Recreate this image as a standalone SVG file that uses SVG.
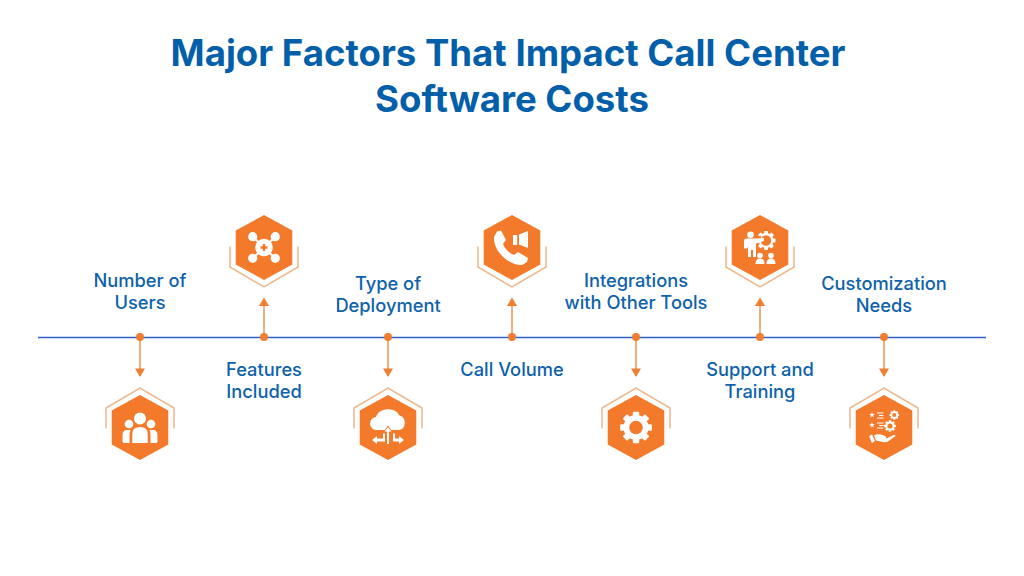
<svg xmlns="http://www.w3.org/2000/svg" xmlns:xlink="http://www.w3.org/1999/xlink" width="1024" height="576" viewBox="0 0 1024 576">
<style>
text{font-family:"Inter","Noto Sans","Liberation Sans",sans-serif;text-anchor:middle}
.t{font-size:36.6px;font-weight:700;fill:#035fa9}
.l{font-size:18.3px;font-weight:500;fill:#0d62ab}
.hex{fill:#f47a2b}
.out{fill:none;stroke:#eeb78c;stroke-width:1.5}
.stem{stroke:#eeaf7e;stroke-width:2;fill:none}
.dot,.head{fill:#f07d30}
.ic{fill:#fff}
</style>
<defs>
<g id="hd"><path class="hex" d="M0-32.500 28.300-17V17L0 32.500-28.300 17V-17Z"/><path class="out" d="M-34 1V-19.500L0-39.500 34-19.500V1"/></g>
<g id="hu"><path class="hex" d="M0-32.500 28.300-17V17L0 32.500-28.300 17V-17Z"/><path class="out" d="M-34-1V19.500L0 39.500 34 19.500V-1"/></g>
<g id="gear"><circle r="12.500" fill="#fff"/><g fill="#fff"><rect x="-3.200" y="-15.800" width="6.400" height="31.600" rx="1"/><rect x="-3.200" y="-15.800" width="6.400" height="31.600" rx="1" transform="rotate(45)"/><rect x="-3.200" y="-15.800" width="6.400" height="31.600" rx="1" transform="rotate(90)"/><rect x="-3.200" y="-15.800" width="6.400" height="31.600" rx="1" transform="rotate(135)"/></g><circle r="6.800" fill="#f47a2b"/></g>
<path id="star" d="M0-3 .7-1 2.850-.93 1.150.37 1.760 2.430 0 1.200-1.760 2.430-1.150.37-2.850-.93-.7-1Z" fill="#fff"/>
</defs>
<rect width="1024" height="576" fill="#fff"/>
<g id="title">
<text class="t" x="508" y="66">Major Factors That Impact Call Center</text>
<text class="t" x="512" y="112">Software Costs</text>
</g>
<g id="connectors">
<line x1="38" y1="337.500" x2="986" y2="337.500" stroke="#2f5fc8" stroke-width="1.500"/>
<g id="c1"><path class="stem" d="M140 337V369"/><circle class="dot" cx="140" cy="337" r="4"/><path class="head" d="M135 368.500H145L140 377Z"/></g>
<g id="c2"><path class="stem" d="M264 337V305"/><circle class="dot" cx="264" cy="337" r="4"/><path class="head" d="M259 306H269L264 297.500Z"/></g>
<g id="c3"><path class="stem" d="M388 337V369"/><circle class="dot" cx="388" cy="337" r="4"/><path class="head" d="M383 368.500H393L388 377Z"/></g>
<g id="c4"><path class="stem" d="M512 337V305"/><circle class="dot" cx="512" cy="337" r="4"/><path class="head" d="M507 306H517L512 297.500Z"/></g>
<g id="c5"><path class="stem" d="M636 337V369"/><circle class="dot" cx="636" cy="337" r="4"/><path class="head" d="M631 368.500H641L636 377Z"/></g>
<g id="c6"><path class="stem" d="M760 337V305"/><circle class="dot" cx="760" cy="337" r="4"/><path class="head" d="M755 306H765L760 297.500Z"/></g>
<g id="c7"><path class="stem" d="M884 337V369"/><circle class="dot" cx="884" cy="337" r="4"/><path class="head" d="M879 368.500H889L884 377Z"/></g>
</g>
<g id="node-users">
<text class="l" x="140" y="287">Number of</text><text class="l" x="140" y="309">Users</text>
<use xlink:href="#hd" href="#hd" x="140" y="427.500"/>
<g class="ic"><circle cx="140" cy="418.500" r="6"/><circle cx="129" cy="424" r="4.300"/><circle cx="151" cy="424" r="4.300"/><path d="M132.300 443V434q0-7 7.700-7t7.700 7V443Z"/><path d="M124 443q-1.500 0-1.500-2V435q0-5 5-5h3q-1 2-1 5V443ZM156 443q1.500 0 1.500-2V435q0-5-5-5h-3q1 2 1 5V443Z"/></g>
</g>
<g id="node-features">
<text class="l" x="264" y="376">Features</text><text class="l" x="264" y="398">Included</text>
<use xlink:href="#hu" href="#hu" x="264" y="247.500"/>
<g class="ic"><path d="M252 236 276 259M276 236 252 259" stroke="#fff" stroke-width="2"/><circle cx="252.700" cy="236.700" r="4.600"/><circle cx="275.300" cy="236.700" r="4.600"/><circle cx="252.700" cy="258.300" r="4.600"/><circle cx="275.300" cy="258.300" r="4.600"/><circle cx="264" cy="247.500" r="8.800"/><path d="M262.800 244H265.200V246.300H267.500V248.700H265.200V251H262.800V248.700H260.500V246.300H262.800Z" fill="#f47a2b"/></g>
</g>
<g id="node-deployment">
<text class="l" x="388" y="290">Type of</text><text class="l" x="388" y="312">Deployment</text>
<use xlink:href="#hd" href="#hd" x="388" y="427.500"/>
<g class="ic"><path d="M377 430a6.500 6.500 0 0 1-1-13 12.500 10.500 0 0 1 23.500-1.500 7.500 7.500 0 0 1-.5 14.500Z"/><path d="M384 431 388 425.500 392 431V444H384Z" fill="#f47a2b"/><path d="M387 444V431.500H384.500L388 427 391.500 431.500H389V444Z"/><path d="M383 433.500V438.500H377V436L372 440 377 444V441.500H385V433.500ZM393 433.500V441.500H399V444L404 440 399 436V438.500H395V433.500Z"/></g>
</g>
<g id="node-volume">
<text class="l" x="512" y="376">Call Volume</text>
<use xlink:href="#hu" href="#hu" x="512" y="247.500"/>
<g class="ic"><path d="M494 237 497 231.500 501 230.500 506 240 503 244C505 249 509 253 514 255L518 252 528 258 527 262 522 265C507 265 493 250 494 237Z"/><rect x="513" y="235" width="4.200" height="10"/><path d="M519 234.500 528 231V248L519 244.500Z"/></g>
</g>
<g id="node-integrations">
<text class="l" x="636" y="287">Integrations</text><text class="l" x="636" y="309">with Other Tools</text>
<use xlink:href="#hd" href="#hd" x="636" y="427.500"/>
<use xlink:href="#gear" href="#gear" x="636" y="427.500"/>
</g>
<g id="node-support">
<text class="l" x="760" y="376">Support and</text><text class="l" x="760" y="398">Training</text>
<use xlink:href="#hu" href="#hu" x="760" y="247.500"/>
<g class="ic"><use xlink:href="#gear" href="#gear" transform="translate(766 240.500) scale(.6)"/><circle cx="766" cy="240.500" r="5.200" fill="#f47a2b"/><path d="M757 236h4v5h-4Z" fill="#f47a2b"/><circle cx="750.500" cy="234.800" r="3.300"/><path d="M744 241q0-2.500 2.500-2.500H756L764 238V241L756 243.500V257H753V250H751V257H748V247L746.500 248.500H744Z"/><circle cx="760" cy="255.500" r="2.800"/><circle cx="771" cy="255.500" r="2.800"/><path d="M755.500 264q0-5.500 4.500-5.500t4.500 5.500ZM766.500 264q0-5.500 4.500-5.500t4.500 5.500Z"/></g>
</g>
<g id="node-customization">
<text class="l" x="884" y="290">Customization</text><text class="l" x="884" y="312">Needs</text>
<use xlink:href="#hd" href="#hd" x="884" y="427.500"/>
<g class="ic"><use xlink:href="#star" href="#star" x="872" y="415"/><use xlink:href="#star" href="#star" x="872" y="425"/><path d="M877 413h6.500M879 415.500h4.500M877 418h6.500M877 423h6.500M879 425.500h4.500M877 428h6.500" stroke="#fff" stroke-width="1.200"/><use xlink:href="#gear" href="#gear" transform="translate(894.300 415) scale(.3)"/><use xlink:href="#gear" href="#gear" transform="translate(890 426) scale(.37)"/><path d="M869 436 872 434.500 875 441 872 443Z"/><path d="M874 435.500q3-2 7-1l4 1.500q2 1 .5 2.500h-4l5.500-.2 6.500-3.300q2-.5 2 1l-7.500 5.500q-2 1-5 .5l-7-1.500Z"/></g>
</g>
</svg>
